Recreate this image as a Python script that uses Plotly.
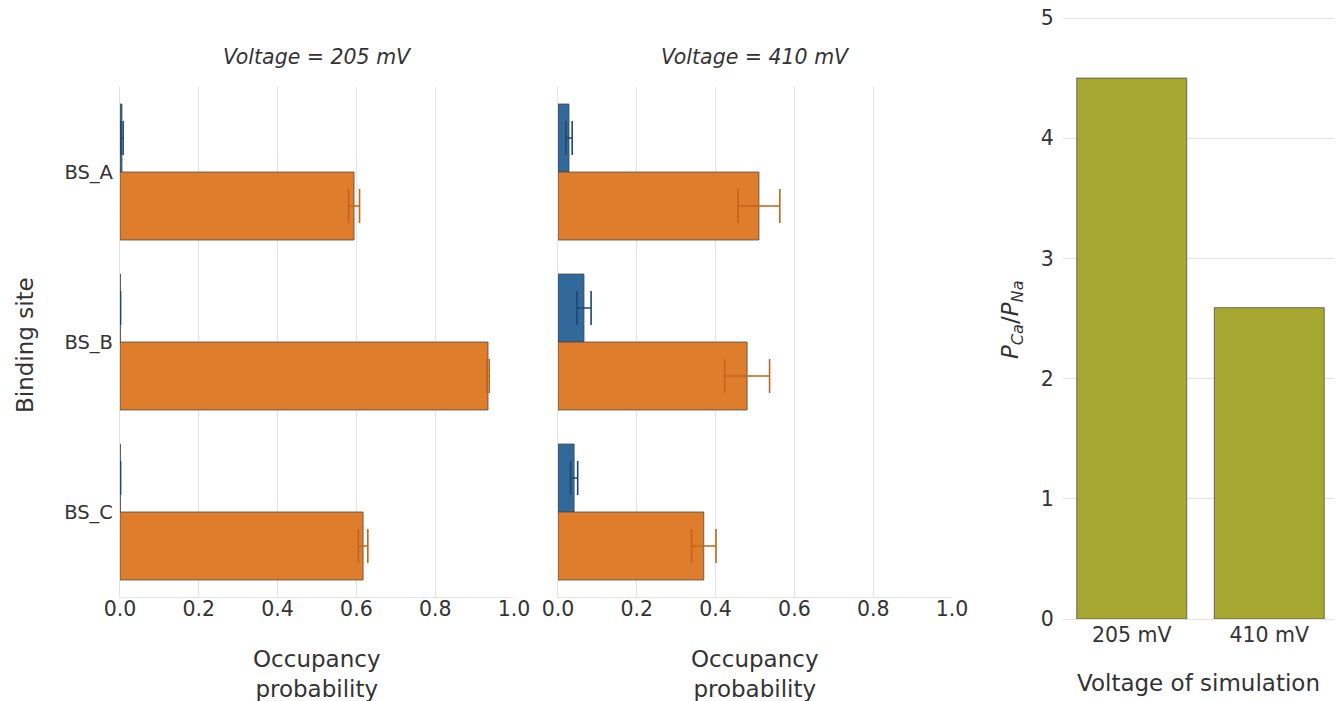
import plotly.graph_objects as go

# ---- data ----
sites = ["BS_A", "BS_B", "BS_C"]
v205_ca = [0.005, 0.001, 0.001]
v205_ca_err = [0.003, 0.0005, 0.0005]
v205_na = [0.594, 0.934, 0.617]
v205_na_err = [0.014, 0.003, 0.012]
v410_ca = [0.028, 0.066, 0.041]
v410_ca_err = [0.008, 0.018, 0.009]
v410_na = [0.510, 0.480, 0.370]
v410_na_err = [0.053, 0.057, 0.031]
voltages = ["205 mV", "410 mV"]
ratio = [4.50, 2.59]

panel_titles = ["Voltage = 205 mV", "Voltage = 410 mV"]
x_ticks = [0.0, 0.2, 0.4, 0.6, 0.8, 1.0]
x_ticklabels = ["0.0", "0.2", "0.4", "0.6", "0.8", "1.0"]
ratio_ticks = [0, 1, 2, 3, 4, 5]

# ---- style ----
OFF = 8  # page body margin offset
W, H = 1342 - OFF, 701 - OFF
BLUE, BLUE_ERR = "#30699a", "#1d4a6c"
ORANGE, ORANGE_ERR = "#de7e2d", "#c2641c"
OLIVE = "#a6a832"
EDGE = "rgba(70,70,70,0.75)"
GRID = "#e3e3e3"
TXT = "#333333"
FONT = "DejaVu Sans"

def px_x(p):
    return (p - OFF) / W

def px_y(p):
    return 1 - (p - OFF) / H

fig = go.Figure()

panels = [
    ("x", "y", v205_ca, v205_ca_err, v205_na, v205_na_err),
    ("x2", "y2", v410_ca, v410_ca_err, v410_na, v410_na_err),
]
for xa, ya, ca, cae, na, nae in panels:
    fig.add_trace(go.Bar(
        y=sites, x=ca, orientation="h", xaxis=xa, yaxis=ya,
        marker=dict(color=BLUE, line=dict(color=EDGE, width=1)),
        error_x=dict(type="data", array=cae, color=BLUE_ERR, thickness=1.6, width=17),
        offsetgroup="ca", showlegend=False,
    ))
    fig.add_trace(go.Bar(
        y=sites, x=na, orientation="h", xaxis=xa, yaxis=ya,
        marker=dict(color=ORANGE, line=dict(color=EDGE, width=1)),
        error_x=dict(type="data", array=nae, color=ORANGE_ERR, thickness=1.6, width=17),
        offsetgroup="na", showlegend=False,
    ))

fig.add_trace(go.Bar(
    x=voltages, y=ratio, xaxis="x3", yaxis="y3",
    marker=dict(color=OLIVE, line=dict(color=EDGE, width=1)),
    width=0.8, showlegend=False,
))

xcommon = dict(
    range=[0, 1.0], tickvals=x_ticks, ticktext=x_ticklabels,
    showgrid=True, gridcolor=GRID, gridwidth=1.3,
    showline=True, linecolor=GRID, linewidth=1.3, zeroline=False,
    ticks="", ticklabelstandoff=-7, automargin=False, ticklabeloverflow="allow",
    tickfont=dict(family=FONT, size=20.5, color=TXT),
)
ycommon = dict(
    type="category", range=[2.5, -0.5], showgrid=False, automargin=False,
    showline=True, linecolor=GRID, linewidth=1.3, zeroline=False,
    ticks="outside", ticklen=2, tickcolor="rgba(0,0,0,0)",
    tickfont=dict(family=FONT, size=19.5, color=TXT),
)

y_top, y_bot = px_y(87), px_y(597)
R_TOP = 5.03
r_top_px = 619 - (619 - 18) * R_TOP / 5.0
fig.update_layout(
    width=W, height=H,
    margin=dict(l=0, r=0, t=0, b=0, pad=0),
    paper_bgcolor="white", plot_bgcolor="white",
    barmode="group", bargap=0.2, bargroupgap=0,
    font=dict(family=FONT, color=TXT),
    xaxis=dict(domain=[px_x(120), px_x(514)], anchor="y", **xcommon),
    yaxis=dict(domain=[y_bot, y_top], anchor="x", showticklabels=True, **ycommon),
    xaxis2=dict(domain=[px_x(558), px_x(952)], anchor="y2", **xcommon),
    yaxis2=dict(domain=[y_bot, y_top], anchor="x2", showticklabels=False, **ycommon),
    xaxis3=dict(
        domain=[px_x(1063), px_x(1338)], anchor="y3", type="category",
        range=[-0.5, 1.5], showgrid=False, showline=True, linecolor=GRID,
        linewidth=1.3, zeroline=False, automargin=False,
        ticks="", ticklabelstandoff=-3,
        tickfont=dict(family=FONT, size=20.5, color=TXT),
    ),
    yaxis3=dict(
        domain=[px_y(619), px_y(r_top_px)], anchor="x3", range=[0, R_TOP],
        tickvals=ratio_ticks, showgrid=True, gridcolor=GRID, gridwidth=1.3,
        showline=False, zeroline=False, automargin=False, ticklabeloverflow="allow",
        ticks="outside", ticklen=4, tickcolor="rgba(0,0,0,0)",
        tickfont=dict(family=FONT, size=20.5, color=TXT),
    ),
)

annots = [
    dict(x=px_x(317), y=px_y(57), text="<i>" + panel_titles[0] + "</i>", size=20.5, angle=0),
    dict(x=px_x(755), y=px_y(57), text="<i>" + panel_titles[1] + "</i>", size=20.5, angle=0),
    dict(x=px_x(317), y=px_y(674), text="Occupancy<br>probability", size=23, angle=0),
    dict(x=px_x(755), y=px_y(674), text="Occupancy<br>probability", size=23, angle=0),
    dict(x=px_x(25), y=px_y(345), text="Binding site", size=23, angle=-90),
    dict(x=px_x(1198), y=px_y(683), text="Voltage of simulation", size=23, angle=0),
    dict(x=px_x(1012), y=px_y(320),
         text="<i>P</i><sub><i>Ca</i></sub>/<i>P</i><sub><i>Na</i></sub>", size=23, angle=-90),
]
for a in annots:
    fig.add_annotation(
        x=a["x"], y=a["y"], xref="paper", yref="paper", text=a["text"],
        showarrow=False, textangle=a["angle"], xanchor="center", yanchor="middle",
        font=dict(family=FONT, size=a["size"], color=TXT),
    )

fig.write_html("out.html")
